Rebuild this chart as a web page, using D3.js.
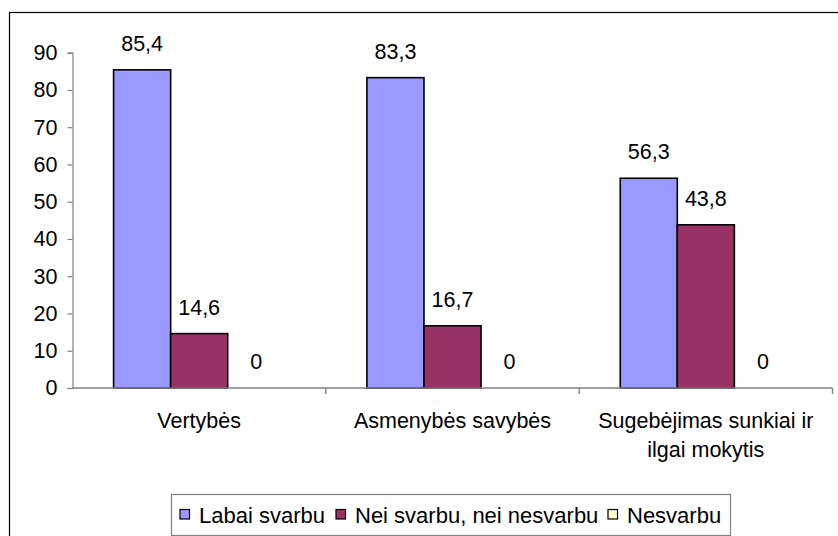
<!DOCTYPE html>
<html>
<head>
<meta charset="utf-8">
<script src="https://cdn.jsdelivr.net/npm/d3@7"></script>
<style>
  body { margin: 0; background: #fff; }
  svg { display: block; font-family: Arial, "Liberation Sans", sans-serif; }
</style>
</head>
<body>
<svg id="chart" width="838" height="536"></svg>
<script>
const categories = ["Vertybės", "Asmenybės savybės", "Sugebėjimas sunkiai ir\nilgai mokytis"];
const seriesNames = ["Labai svarbu", "Nei svarbu, nei nesvarbu", "Nesvarbu"];
const labaiSvarbu = [85.4, 83.3, 56.3];
const neiSvarbu = [14.6, 16.7, 43.8];
const nesvarbu = [0, 0, 0];
const yTicks = [0, 10, 20, 30, 40, 50, 60, 70, 80, 90];

const colors = ["#9999ff", "#993366", "#ffffcc"];
const series = [labaiSvarbu, neiSvarbu, nesvarbu];
const fs = 21.5;

const svg = d3.select("#chart");
const plotLeft = 72.5, plotRight = 832.5, plotTop = 52.7, plotBottom = 388;

// outer chart border (cut off on right and bottom)
svg.append("rect")
    .attr("x", 9.5).attr("y", 12.5)
    .attr("width", 900).attr("height", 600)
    .attr("fill", "none").attr("stroke", "#000").attr("stroke-width", 1.2);

const y = d3.scaleLinear().domain([0, 90]).range([plotBottom, plotTop]);
const x0 = d3.scaleBand().domain(categories).range([plotLeft, plotRight]);
const x1 = d3.scaleBand().domain(d3.range(3))
    .range([0, x0.bandwidth()]).paddingOuter(0.72).paddingInner(0);

// y axis
const yAxis = svg.append("g")
    .attr("transform", `translate(${plotLeft},0)`)
    .call(d3.axisLeft(y).tickValues(yTicks).tickSize(5).tickPadding(10));
yAxis.select(".domain").attr("stroke", "#808080").attr("stroke-width", 1.2);
yAxis.selectAll(".tick line").attr("stroke", "#808080").attr("stroke-width", 1.2);
yAxis.selectAll(".tick text").attr("font-size", fs).attr("fill", "#000")
    .attr("font-family", "Arial, 'Liberation Sans', sans-serif");

// bars
categories.forEach((c, ci) => {
    series.forEach((s, si) => {
        const v = s[ci];
        const bx = x0(c) + x1(si);
        const bw = x1.bandwidth();
        if (v > 0) {
            svg.append("rect")
                .attr("x", bx).attr("y", y(v))
                .attr("width", bw).attr("height", y(0) - y(v))
                .attr("fill", colors[si])
                .attr("stroke", "#000").attr("stroke-width", 1.6);
        }
        svg.append("text")
            .attr("x", bx + bw / 2)
            .attr("y", y(v) - 19)
            .attr("text-anchor", "middle")
            .attr("font-size", fs)
            .text(String(v).replace(".", ","));
    });
});

// x axis
svg.append("line")
    .attr("x1", plotLeft).attr("x2", plotRight)
    .attr("y1", plotBottom).attr("y2", plotBottom)
    .attr("stroke", "#808080").attr("stroke-width", 1.4);
categories.forEach(c => {
    const tx = x0(c) + x0.bandwidth();
    svg.append("line")
        .attr("x1", tx).attr("x2", tx)
        .attr("y1", plotBottom).attr("y2", plotBottom + 6)
        .attr("stroke", "#808080").attr("stroke-width", 1.4);
    const t = svg.append("text")
        .attr("text-anchor", "middle")
        .attr("font-size", fs)
        .attr("y", 428);
    c.split("\n").forEach((line, i) => {
        t.append("tspan")
            .attr("x", x0(c) + x0.bandwidth() / 2)
            .attr("dy", i === 0 ? 0 : 29)
            .text(line);
    });
});

// legend
svg.append("rect")
    .attr("x", 171.5).attr("y", 494.5)
    .attr("width", 559).attr("height", 41)
    .attr("fill", "#fff").attr("stroke", "#808080").attr("stroke-width", 1.2);
const legendX = [180, 336, 608];
seriesNames.forEach((n, i) => {
    svg.append("rect")
        .attr("x", legendX[i]).attr("y", 509.5)
        .attr("width", 9.5).attr("height", 9.5)
        .attr("fill", colors[i]).attr("stroke", "#000").attr("stroke-width", 1.2);
    svg.append("text")
        .attr("x", legendX[i] + 19).attr("y", 522.5)
        .attr("font-size", 22)
        .text(n);
});
</script>
</body>
</html>
